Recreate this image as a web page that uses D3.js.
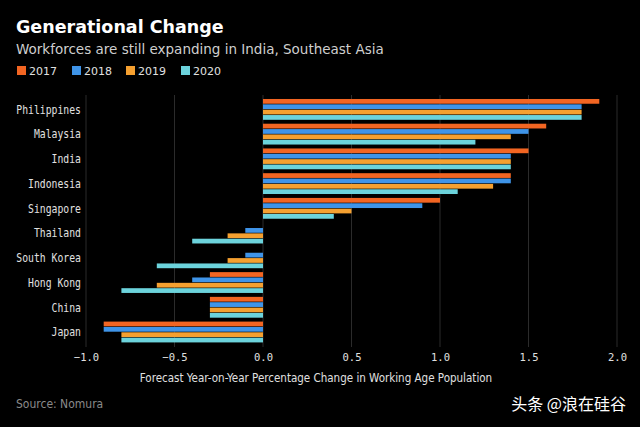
<!DOCTYPE html>
<html><head><meta charset="utf-8">
<script src="https://cdn.jsdelivr.net/npm/d3@7"></script>
<style>html,body{margin:0;padding:0;background:#000;}svg{display:block;}</style>
</head><body>
<script>
const countries = ["Philippines","Malaysia","India","Indonesia","Singapore","Thailand","South Korea","Hong Kong","China","Japan"];
const years = ["2017","2018","2019","2020"];
const v2017 = [1.9,1.6,1.5,1.4,1.0,0,0,-0.3,-0.3,-0.9];
const v2018 = [1.8,1.5,1.4,1.4,0.9,-0.1,-0.1,-0.4,-0.3,-0.9];
const v2019 = [1.8,1.4,1.4,1.3,0.5,-0.2,-0.2,-0.6,-0.3,-0.8];
const v2020 = [1.8,1.2,1.4,1.1,0.4,-0.4,-0.6,-0.8,-0.3,-0.8];
const tickValues = [-1.0,-0.5,0.0,0.5,1.0,1.5,2.0];
const colors = ["#f26522","#3f94e8","#f5a030","#6cd3dc"];
const series = [v2017,v2018,v2019,v2020];

const W=640,H=427;
const svg=d3.select("body").append("svg").attr("width",W).attr("height",H);
svg.append("rect").attr("width",W).attr("height",H).attr("fill","#000");

const x=d3.scaleLinear().domain([-1,2]).range([86,617]);
const y=d3.scaleBand().domain(countries).range([97.5,344.5]).paddingInner(0.134).paddingOuter(0.06);
const yy=d3.scaleBand().domain(years).range([0,y.bandwidth()]);

// grid
svg.append("g").selectAll("line").data(tickValues).join("line")
  .attr("x1",d=>x(d)).attr("x2",d=>x(d)).attr("y1",95).attr("y2",347)
  .attr("stroke","#2b2b2b").attr("stroke-width",1);

// bars
const mono="'DejaVu Sans Mono','Liberation Mono',monospace";
series.forEach((s,i)=>{
  svg.append("g").selectAll("rect").data(countries).join("rect")
    .attr("x",(d,j)=>x(Math.min(0,s[j])))
    .attr("width",(d,j)=>Math.abs(x(s[j])-x(0)))
    .attr("y",d=>y(d)+yy(years[i]))
    .attr("height",yy.bandwidth()-0.6)
    .attr("fill",colors[i]);
});

// y labels
svg.append("g").selectAll("text").data(countries).join("text")
  .attr("transform",d=>`translate(81,${y(d)+y.bandwidth()/2+4}) scale(0.85,1)`)
  .attr("text-anchor","end").attr("fill","#e0e0e0")
  .style("font-family",mono).style("font-size","11.5px").text(d=>d);

// x axis
const xa=svg.append("g").attr("transform","translate(0,347)")
  .call(d3.axisBottom(x).tickValues(tickValues).tickSize(0).tickPadding(7).tickFormat(d3.format(".1f")));
xa.select(".domain").remove();
xa.selectAll("text").attr("fill","#e0e0e0").style("font-family",mono).style("font-size","10.5px");

svg.append("text").attr("x",316).attr("y",382).attr("text-anchor","middle")
  .attr("fill","#e0e0e0").style("font-family","'Liberation Sans Narrow','DejaVu Sans Condensed',sans-serif")
  .style("font-size","11.5px").text("Forecast Year-on-Year Percentage Change in Working Age Population");

// title
svg.append("text").attr("x",16).attr("y",33).attr("fill","#fff")
  .style("font-family","'DejaVu Sans',sans-serif").style("font-weight","bold").style("font-size","17.5px")
  .text("Generational Change");
svg.append("text").attr("x",16).attr("y",54).attr("fill","#cfcfcf")
  .style("font-family","'DejaVu Sans',sans-serif").style("font-size","13.5px")
  .text("Workforces are still expanding in India, Southeast Asia");

// legend
const lx=[17,72,126,181];
const lg=svg.append("g").selectAll("g").data(years).join("g")
  .attr("transform",(d,i)=>`translate(${lx[i]},66)`);
lg.append("rect").attr("width",9).attr("height",9).attr("fill",(d,i)=>colors[i]);
lg.append("text").attr("x",12).attr("y",9).attr("fill","#e0e0e0")
  .style("font-family","'DejaVu Sans',sans-serif").style("font-size","11px").text(d=>d);

// source
svg.append("text").attr("x",16).attr("y",408).attr("fill","#8a8a8a")
  .style("font-family","'Liberation Sans Narrow','DejaVu Sans Condensed',sans-serif").style("font-size","12px")
  .text("Source: Nomura");
svg.append("text").attr("x",626).attr("y",410).attr("text-anchor","end").attr("fill","#ffffff")
  .style("font-family","'Noto Sans CJK SC',sans-serif").style("font-size","16px")
  .text("头条 @浪在硅谷");
</script>
</body></html>
